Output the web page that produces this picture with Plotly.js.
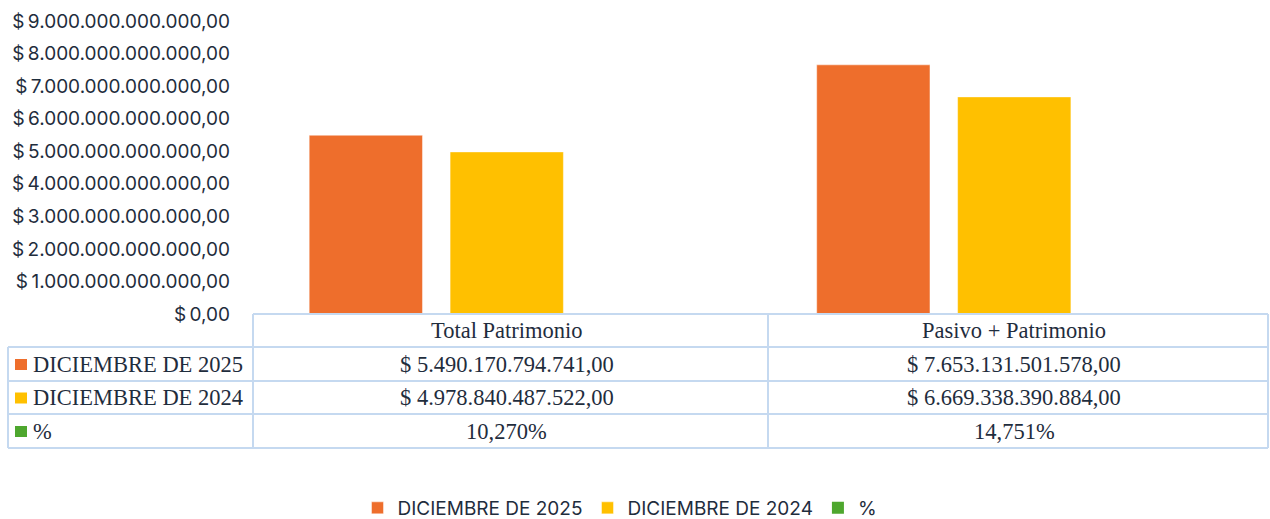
<!DOCTYPE html>
<html>
<head>
<meta charset="utf-8">
<script src="https://cdn.plot.ly/plotly-3.0.1.min.js"></script>
<style>html,body{margin:0;padding:0;background:#fff;}#chart{width:1270px;height:519px;}</style>
</head>
<body>
<div id="chart"></div>
<script>
// ---- data ----
var categories = ['Total Patrimonio', 'Pasivo + Patrimonio'];
var seriesNames = ['DICIEMBRE DE 2025', 'DICIEMBRE DE 2024', '%'];
var dic2025 = [5490170794741.00, 7653131501578.00];
var dic2024 = [4978840487522.00, 6669338390884.00];
var pct = [0.10270, 0.14751];
var colors = ['#EE6E2C', '#FFC000', '#4EA72E'];

// ---- helpers ----
function money(v) {
  var parts = v.toFixed(2).split('.');
  var intPart = parts[0].replace(/\B(?=(\d{3})+(?!\d))/g, '.');
  return '$ ' + intPart + ',' + parts[1];
}
function percent(v) {
  return (v * 100).toFixed(3).replace('.', ',') + '%';
}

// ---- geometry (pixels → paper) ----
var W = 1270, H = 519;
var L = 253, R = 1268, T = 21, B = 314;
function px(X) { return (X - L) / (R - L); }
function py(Y) { return (B - Y) / (B - T); }

var traces = [
  {type: 'bar', name: seriesNames[0], x: categories, y: dic2025,
   marker: {color: colors[0], line: {color: 'rgba(255,255,255,0.45)', width: 1}}, hoverinfo: 'skip'},
  {type: 'bar', name: seriesNames[1], x: categories, y: dic2024,
   marker: {color: colors[1], line: {color: 'rgba(255,255,255,0.45)', width: 1}}, hoverinfo: 'skip'},
  {type: 'bar', name: seriesNames[2], x: categories, y: pct,
   marker: {color: colors[2]}, hoverinfo: 'skip'}
];

// ---- data table below the chart ----
var lineColor = '#C5D9F0';
var tFont = {family: 'Liberation Serif, Times New Roman, serif', size: 22.5, color: '#1F2D3D'};
var rowY = [330.5, 364, 397.5, 431]; // text centres
var hLines = [[253, 314], [8, 347], [8, 381], [8, 414], [8, 448]];
var shapes = [];
hLines.forEach(function (h) {
  shapes.push({type: 'line', xref: 'paper', yref: 'paper', x0: px(h[0]), x1: px(R), y0: py(h[1]), y1: py(h[1]),
    line: {color: lineColor, width: 2}, layer: 'above'});
});
[[8, 347], [253, 314], [768, 314], [R, 314]].forEach(function (v) {
  shapes.push({type: 'line', xref: 'paper', yref: 'paper', x0: px(v[0]), x1: px(v[0]), y0: py(v[1]), y1: py(448),
    line: {color: lineColor, width: 2}, layer: 'above'});
});
// legend keys in table
for (var s = 0; s < 3; s++) {
  var cy = rowY[s + 1];
  shapes.push({type: 'rect', xref: 'paper', yref: 'paper', x0: px(15), x1: px(27), y0: py(cy - 5), y1: py(cy + 6),
    line: {width: 0}, fillcolor: colors[s]});
}

var annotations = [];
var rows = [dic2025.map(money), dic2024.map(money), pct.map(percent)];
categories.forEach(function (c, i) {
  annotations.push({xref: 'x', yref: 'paper', x: c, y: py(rowY[0]), text: c, showarrow: false,
    xanchor: 'center', yanchor: 'middle', font: tFont});
  rows.forEach(function (r, k) {
    annotations.push({xref: 'x', yref: 'paper', x: c, y: py(rowY[k + 1]), text: r[i], showarrow: false,
      xanchor: 'center', yanchor: 'middle', font: tFont});
  });
});
seriesNames.forEach(function (n, k) {
  annotations.push({xref: 'paper', yref: 'paper', x: px(31), y: py(rowY[k + 1]), text: n, showarrow: false,
    xanchor: 'left', yanchor: 'middle', font: tFont});
});

var sansFont = {family: 'Inter, Noto Sans, sans-serif', size: 19, color: '#1F2D3D'};
var layout = {
  width: W, height: H,
  margin: {l: L, r: W - R, t: T, b: H - B, pad: 0, autoexpand: false},
  paper_bgcolor: '#fff', plot_bgcolor: '#fff',
  separators: ',.',
  barmode: 'group', bargap: 0.167, bargroupgap: 0.196,
  font: sansFont,
  xaxis: {type: 'category', showticklabels: false, showgrid: false, zeroline: false, showline: false, ticks: ''},
  yaxis: {range: [0, 9e12], dtick: 1e12, tick0: 0, tickformat: ',.2f', tickprefix: '$\u2009',
    showgrid: false, zeroline: false, showline: false, ticks: '', ticklabelstandoff: 22,
    tickfont: sansFont},
  showlegend: true,
  legend: {orientation: 'h', x: px(620), xanchor: 'center', y: py(527), yanchor: 'bottom',
    font: sansFont, itemwidth: 30, traceorder: 'normal'},
  shapes: shapes,
  annotations: annotations
};

Plotly.newPlot('chart', traces, layout, {displayModeBar: false, staticPlot: true});
</script>
</body>
</html>
